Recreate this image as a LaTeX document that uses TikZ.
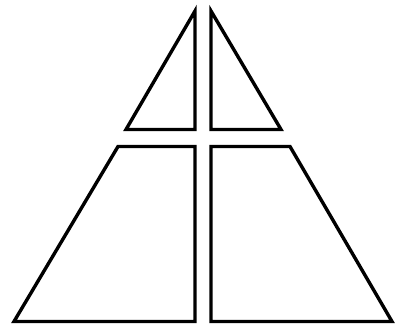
\documentclass[tikz,border=0pt]{standalone}
\begin{document}
\begin{tikzpicture}[x=1pt,y=-1pt,piece/.style={draw=black,line width=3.4pt,line join=miter}]
\useasboundingbox (0,0) rectangle (398,331);
\fill[white] (0,0) rectangle (398,331);
\draw[piece] (195,11) -- (195,129.5) -- (126,129.5) -- cycle;
\draw[piece] (211,11) -- (211,129.5) -- (281,129.5) -- cycle;
\draw[piece] (118,146.5) -- (195,146.5) -- (195,321.5) -- (14,321.5) -- cycle;
\draw[piece] (211,146.5) -- (290,146.5) -- (392,321.5) -- (211,321.5) -- cycle;
\end{tikzpicture}
\end{document}
